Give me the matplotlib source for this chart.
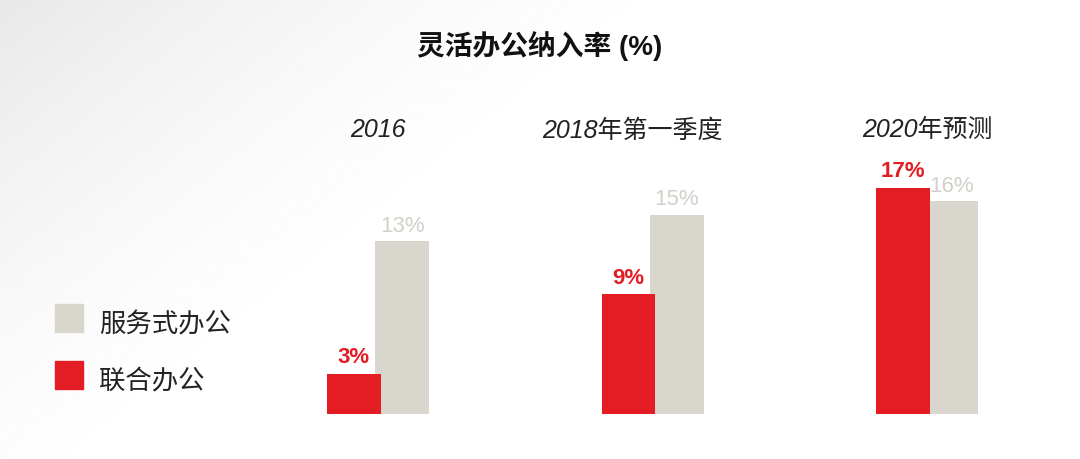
import matplotlib
matplotlib.use("Agg")
import matplotlib.pyplot as plt
import numpy as np
from matplotlib.patches import Rectangle

plt.rcParams['font.family'] = ['Liberation Sans', 'Noto Sans CJK SC', 'DejaVu Sans']

title = "灵活办公纳入率 (%)"
categories = ["2016", "2018年第一季度", "2020年预测"]
coworking = [3, 9, 17]        # 联合办公
serviced = [13, 15, 16]       # 服务式办公
series_names = ["服务式办公", "联合办公"]

red = "#e41d24"
grey = "#d9d6ce"
grey_text = "#d3d0ca"

fig = plt.figure(figsize=(10.8, 4.6), dpi=100)

# faint grey wash in the top-left corner, like the slide background
bg = fig.add_axes([0, 0, 1, 1], zorder=0)
yy, xx = np.mgrid[0:1:200j, 0:1:400j]
shade = np.clip(1 - (xx * 1.5 + (1 - yy) * 0.8), 0, 1) ** 1.5
bg.imshow(1 - 0.09 * shade, cmap="gray", vmin=0, vmax=1, extent=[0, 1, 0, 1],
          aspect="auto", origin="lower")
bg.set_xlim(0, 1)
bg.set_ylim(0, 1)
bg.axis("off")

ax = fig.add_axes([0.223, 0.098, 0.7625, 0.578], zorder=1)
ax.patch.set_alpha(0)
x = np.arange(len(categories))
w = 0.195
off = 0.088
ax.bar(x + off, serviced, width=w, color=grey, zorder=2)
ax.bar(x - off, coworking, width=w, color=red, zorder=3)

for xi, v in zip(x, serviced):
    ax.text(xi + off, v + 0.4, f"{v}%", ha="center", va="bottom",
            fontsize=16, color=grey_text)
for xi, v in zip(x, coworking):
    ax.text(xi - off, v + 0.5, f"{v}%", ha="center", va="bottom",
            fontsize=16, color=red, fontweight="bold")

# middle label sits a little left of its group in the original
label_shift = [0, -0.075, 0]
for xi, c, s in zip(x, categories, label_shift):
    ax.text(xi + s, 21.4, c, ha="center", va="center", fontsize=18,
            style="italic", color="#222222")

ax.set_xlim(-0.5, 2.5)
ax.set_ylim(0, 20)
ax.axis("off")

fig.text(0.5, 0.9, title, ha="center", va="center", fontsize=20,
         fontweight="bold", color="#111111")

# legend
for yc, name, col in zip([0.3065, 0.183], series_names, [grey, red]):
    fig.patches.append(Rectangle((0.051, yc - 0.03), 0.026, 0.061,
                                 transform=fig.transFigure, color=col,
                                 figure=fig))
    fig.text(0.092, yc - 0.013, name, ha="left", va="center", fontsize=19,
             color="#222222")

fig.savefig("out.png", dpi=100)
